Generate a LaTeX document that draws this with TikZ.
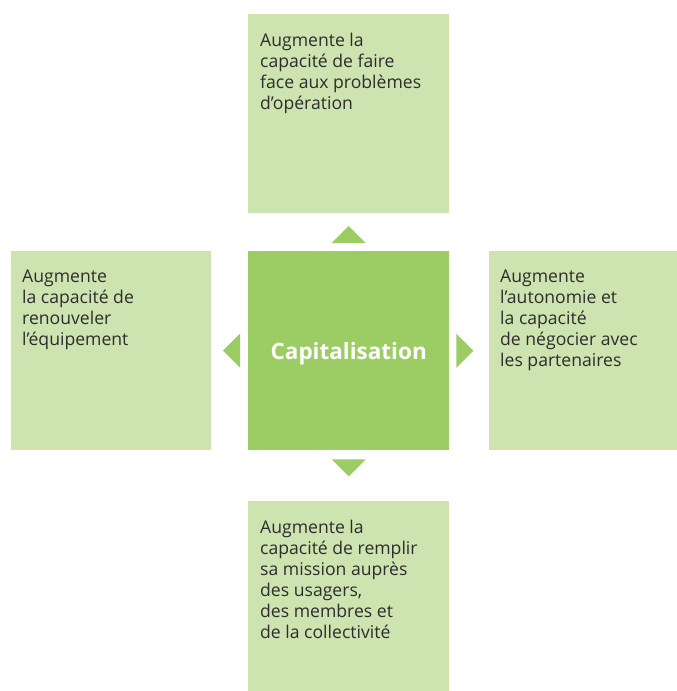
\documentclass[tikz,border=0pt]{standalone}
\usepackage{fontspec}
\setmainfont{Open Sans}
\usetikzlibrary{calc}
\definecolor{lightg}{RGB}{205,227,176}
\definecolor{darkg}{RGB}{155,205,100}
\definecolor{txtc}{RGB}{45,45,45}
\begin{document}
\begin{tikzpicture}[x=1pt,y=-1pt,
  box/.style={fill=lightg, draw=none, anchor=north west, inner sep=0pt},
  lbl/.style={anchor=north west, inner sep=0pt, align=left, text=txtc,
    font=\fontsize{17.6}{21}\selectfont},
  tri/.style={fill=darkg, draw=none}]
\useasboundingbox (0,0) rectangle (677,691);
\node[box, minimum width=201pt, minimum height=199pt] (topbox) at (248,14) {};
\node[box, minimum width=200pt, minimum height=199pt] (leftbox) at (11,251) {};
\node[box, fill=darkg, minimum width=201pt, minimum height=199pt] (center) at (248,251) {};
\node[box, minimum width=188pt, minimum height=199pt] (rightbox) at (489,251) {};
\node[box, minimum width=201pt, minimum height=190pt] (botbox) at (248,501) {};
\node[text=white, font=\fontsize{22.5}{26}\selectfont\bfseries] (cap) at ($(center.center)+(0,3)$) {Capitalisation};
\node[lbl] (toptxt) at ($(topbox.north west)+(12,18.5)$) {Augmente la\\capacité de faire\\face aux problèmes\\d’opération};
\node[lbl] (lefttxt) at ($(leftbox.north west)+(11,18.5)$) {Augmente\\la capacité de\\renouveler\\l’équipement};
\node[lbl] (righttxt) at ($(rightbox.north west)+(11,18.5)$) {Augmente\\l’autonomie et\\la capacité\\de négocier avec\\les partenaires};
\node[lbl] (bottxt) at ($(botbox.north west)+(12,18.5)$) {Augmente la\\capacité de remplir\\sa mission auprès\\des usagers,\\des membres et\\de la collectivité};
% arrowheads
\fill[tri] ($(center.north)+(-17,-8)$) -- ($(center.north)+(17,-8)$) -- ($(center.north)+(0,-25)$) -- cycle;
\fill[tri] ($(center.south)+(-17,9)$) -- ($(center.south)+(17,9)$) -- ($(center.south)+(0,26)$) -- cycle;
\fill[tri] ($(center.west)+(-8,-17)$) -- ($(center.west)+(-8,17)$) -- ($(center.west)+(-25,0)$) -- cycle;
\fill[tri] ($(center.east)+(7,-17)$) -- ($(center.east)+(7,17)$) -- ($(center.east)+(24,0)$) -- cycle;
\end{tikzpicture}
\end{document}
